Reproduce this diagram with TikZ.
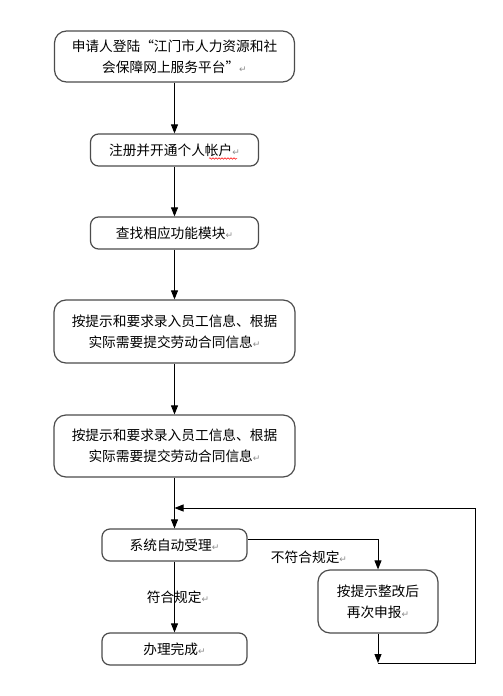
\documentclass[tikz,border=0pt]{standalone}
\usepackage{fontspec}
\newfontfamily\cjk{Noto Sans CJK SC}
\newfontfamily\symfont{DejaVu Sans}
\usetikzlibrary{arrows.meta,decorations.pathmorphing}
\newcommand{\parmark}{{\symfont\fontsize{9}{9}\selectfont\color{black!45}↵}}
\begin{document}
\begin{tikzpicture}[x=1pt,y=-1pt,
  box/.style={draw=black!70, line width=1.2pt, rounded corners=8pt, align=center, inner sep=0pt, font=\cjk\fontsize{13.7}{21}\selectfont},
  bigbox/.style={box, rounded corners=12pt},
  conn/.style={draw=black, line width=0.9pt, -{Triangle[width=7pt,length=9pt]}},
  lab/.style={font=\cjk\fontsize{13.7}{16}\selectfont, inner sep=0pt}]
\useasboundingbox[fill=white] (0,0) rectangle (503,696);
\node[bigbox, minimum width=240pt, minimum height=51pt] (b1) at (174.5,56.5) {申请人登陆“江门市人力资源和社\\会保障网上服务平台”\parmark};
\node[box, minimum width=168pt, minimum height=32pt] (b2) at (174.5,150) {注册并开通个人帐户\parmark};
\node[box, minimum width=168pt, minimum height=32pt] (b3) at (174.5,233) {查找相应功能模块\parmark};
\node[bigbox, minimum width=241pt, minimum height=63pt] (b4) at (174.5,331.5) {按提示和要求录入员工信息、根据\\实际需要提交劳动合同信息\parmark};
\node[bigbox, minimum width=241pt, minimum height=62pt] (b5) at (174.5,446) {按提示和要求录入员工信息、根据\\实际需要提交劳动合同信息\parmark};
\node[box, minimum width=145pt, minimum height=32pt] (b6) at (174.5,545) {系统自动受理\parmark};
\node[box, minimum width=145pt, minimum height=32pt] (b7) at (174.5,649) {办理完成\parmark};
\node[bigbox, minimum width=120pt, minimum height=63pt] (b8) at (378,601.5) {按提示整改后\\再次申报\parmark};
\node[lab] (l1) at (309,557) {不符合规定\parmark};
\node[lab] (l2) at (178,597) {符合规定\parmark};
\draw[red, line width=0.5pt, decorate, decoration={snake, amplitude=0.8pt, segment length=3pt}] (209,158.5) -- (237,158.5);
\coordinate (c1) at (378,663);
\coordinate (c2) at (475,663);
\coordinate (c3) at (475,508);
\coordinate (c4) at (174.5,508);
\draw[conn] (b1) -- (b2);
\draw[conn] (b2) -- (b3);
\draw[conn] (b3) -- (b4);
\draw[conn] (b4) -- (b5);
\draw[conn] (b5) -- (b6);
\draw[conn] (b6) -- (b7);
\draw[conn] ([yshift=6pt]b6.east) -| (b8.north);
\draw[conn] (b8) -- (c1);
\draw[conn] (c1) -- (c2) -- (c3) -- (c4);
\end{tikzpicture}
\end{document}
